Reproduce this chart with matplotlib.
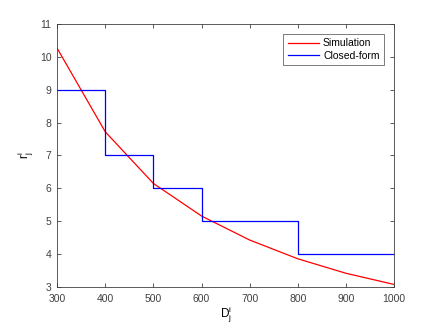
import matplotlib
matplotlib.use('Agg')
import matplotlib.pyplot as plt

# Simulation results
d_sim = [300, 400, 500, 600, 700, 800, 900, 1000]
r_sim = [10.26, 7.72, 6.15, 5.16, 4.43, 3.86, 3.42, 3.08]

# Closed-form (step) values
d_cf = [300, 400, 500, 600, 800, 1000]
r_cf = [9, 7, 6, 5, 4, 4]

x_ticks = [300, 400, 500, 600, 700, 800, 900, 1000]
y_ticks = [3, 4, 5, 6, 7, 8, 9, 10, 11]

plt.rcParams['font.family'] = ['Liberation Sans', 'DejaVu Sans']
axis_color = '#404040'

fig = plt.figure(figsize=(4.36, 3.27), dpi=100)
ax = fig.add_axes([0.131, 0.122, 0.773, 0.805])

ax.plot(d_sim, r_sim, color='red', linewidth=0.9, label='Simulation')
ax.plot(d_cf, r_cf, color='blue', linewidth=0.9, drawstyle='steps-post',
        label='Closed-form')

ax.set_xlim(300, 1000)
ax.set_ylim(3, 11)
ax.set_xticks(x_ticks)
ax.set_yticks(y_ticks)
ax.tick_params(direction='in', length=3, width=0.6, labelsize=7.5,
               colors=axis_color, top=True, right=True)
ax.tick_params(axis='x', pad=5)
ax.tick_params(axis='y', pad=4)
for s in ax.spines.values():
    s.set_color(axis_color)
    s.set_linewidth(0.6)

ax.set_xlabel(r'$\mathregular{D_j^i}$', fontsize=8.5, color='black', labelpad=0.5)
ax.set_ylabel(r'$\mathregular{r_j^i}$', fontsize=8.5, color='black', labelpad=3)

leg = ax.legend(loc='upper right', fontsize=7.5, frameon=True, fancybox=False,
                handlelength=3.0, borderpad=0.4, labelspacing=0.2,
                handletextpad=0.4, borderaxespad=1.0)
leg.get_frame().set_edgecolor(axis_color)
leg.get_frame().set_linewidth(0.6)

fig.savefig('out.png', dpi=100, facecolor='white')
